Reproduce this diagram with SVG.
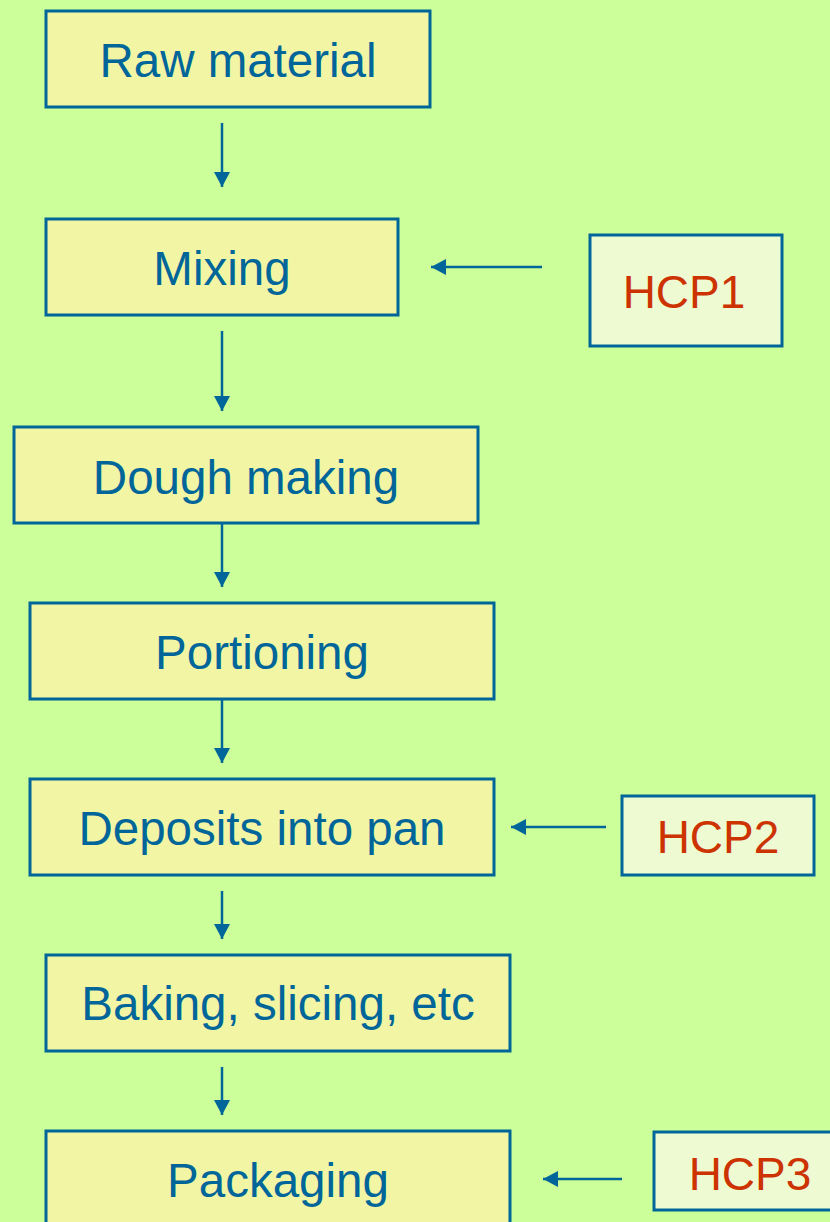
<svg xmlns="http://www.w3.org/2000/svg" width="830" height="1222" viewBox="0 0 830 1222">
<defs>
<marker id="ah" markerUnits="userSpaceOnUse" markerWidth="17" markerHeight="17" refX="15" refY="8" orient="auto">
<path d="M0,0 L15,8 L0,16 z" fill="#006699"/>
</marker>
<style>
.step rect{fill:#f2f6a4;stroke:#006699;stroke-width:3}
.step text{fill:#006699;font-family:"Liberation Sans",Arial,sans-serif;font-size:47.5px;text-anchor:middle}
.hcp rect{fill:#eefad2;stroke:#006699;stroke-width:3}
.hcp text{fill:#cc3300;font-family:"Liberation Sans",Arial,sans-serif;font-size:46px;text-anchor:middle}
.conn line{stroke:#006699;stroke-width:2.5;marker-end:url(#ah)}
</style>
</defs>
<rect x="0" y="0" width="830" height="1222" fill="#ccff99"/>
<g id="raw" class="step"><rect x="46" y="11" width="384" height="96"/><text x="238" y="77">Raw material</text></g>
<g id="mixing" class="step"><rect x="46" y="219" width="352" height="96"/><text x="222" y="285">Mixing</text></g>
<g id="dough" class="step"><rect x="14" y="427" width="464" height="96"/><text x="246" y="494">Dough making</text></g>
<g id="portioning" class="step"><rect x="30" y="603" width="464" height="96"/><text x="262" y="669">Portioning</text></g>
<g id="deposits" class="step"><rect x="30" y="779" width="464" height="96"/><text x="262" y="845">Deposits into pan</text></g>
<g id="baking" class="step"><rect x="46" y="955" width="464" height="96"/><text x="278" y="1020">Baking, slicing, etc</text></g>
<g id="packaging" class="step"><rect x="46" y="1131" width="464" height="96"/><text x="278" y="1197">Packaging</text></g>
<g id="hcp1" class="hcp"><rect x="590" y="235" width="192" height="111"/><text x="684" y="308">HCP1</text></g>
<g id="hcp2" class="hcp"><rect x="622" y="796" width="192" height="79"/><text x="718" y="853">HCP2</text></g>
<g id="hcp3" class="hcp"><rect x="654" y="1132" width="190" height="78"/><text x="750" y="1190">HCP3</text></g>
<g id="connectors" class="conn">
<line x1="222" y1="123" x2="222" y2="187"/>
<line x1="222" y1="331" x2="222" y2="411"/>
<line x1="222" y1="523" x2="222" y2="587"/>
<line x1="222" y1="699" x2="222" y2="763"/>
<line x1="222" y1="891" x2="222" y2="939"/>
<line x1="222" y1="1067" x2="222" y2="1115"/>
<line x1="542" y1="267" x2="431" y2="267"/>
<line x1="606" y1="827" x2="511" y2="827"/>
<line x1="622" y1="1179" x2="543" y2="1179"/>
</g>
</svg>
